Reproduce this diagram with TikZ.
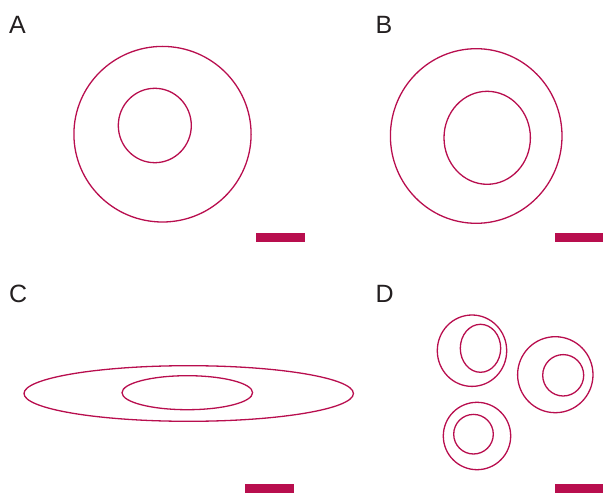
\documentclass[tikz,border=0pt]{standalone}
\usepackage{fontspec}
\setmainfont{Liberation Sans}
\definecolor{cell}{RGB}{184,14,78}
\definecolor{lab}{RGB}{35,31,32}
\begin{document}
\begin{tikzpicture}[x=1pt,y=-1pt,
  mem/.style={draw=cell,line width=1.3pt},
  bar/.style={fill=cell,draw=none},
  panel/.style={anchor=base west,inner sep=0pt,font=\fontsize{25}{25}\selectfont,text=lab}]
\useasboundingbox (0,0) rectangle (603,495);
% labels
\node[panel] (la) at (9,33.3) {A};
\node[panel] (lb) at (375.5,33.3) {B};
\node[panel] (lc) at (9,302.7) {C};
\node[panel] (ld) at (375.5,302.7) {D};
% A
\draw[mem] (162.5,134.2) ellipse [x radius=88.6,y radius=87.8];
\draw[mem] (154.8,125.5) ellipse [x radius=36.5,y radius=37.2];
\fill[bar] (256,233) rectangle (305,241.7);
% B
\draw[mem] (476.2,136) ellipse [x radius=85.8,y radius=87.3];
\draw[mem] (487.2,137.8) ellipse [x radius=43.2,y radius=46.5];
\fill[bar] (555,233) rectangle (603,241.7);
% C
\draw[mem] (188.7,393.5) ellipse [x radius=164.7,y radius=27.8];
\draw[mem] (187.3,392.7) ellipse [x radius=65.3,y radius=17];
\fill[bar] (245,484) rectangle (294,492.7);
% D
\draw[mem] (472,350.7) ellipse [x radius=34.7,y radius=35.7];
\draw[mem] (480.5,348.3) ellipse [x radius=20.2,y radius=24];
\draw[mem] (555.3,374.7) ellipse [x radius=37.7,y radius=38];
\draw[mem] (563.2,375.3) ellipse [x radius=20.5,y radius=20.7];
\draw[mem] (477,436) ellipse [x radius=33.7,y radius=33.7];
\draw[mem] (473.5,434.2) ellipse [x radius=19.8,y radius=19.8];
\fill[bar] (555,484.3) rectangle (603,492.7);
\end{tikzpicture}
\end{document}
